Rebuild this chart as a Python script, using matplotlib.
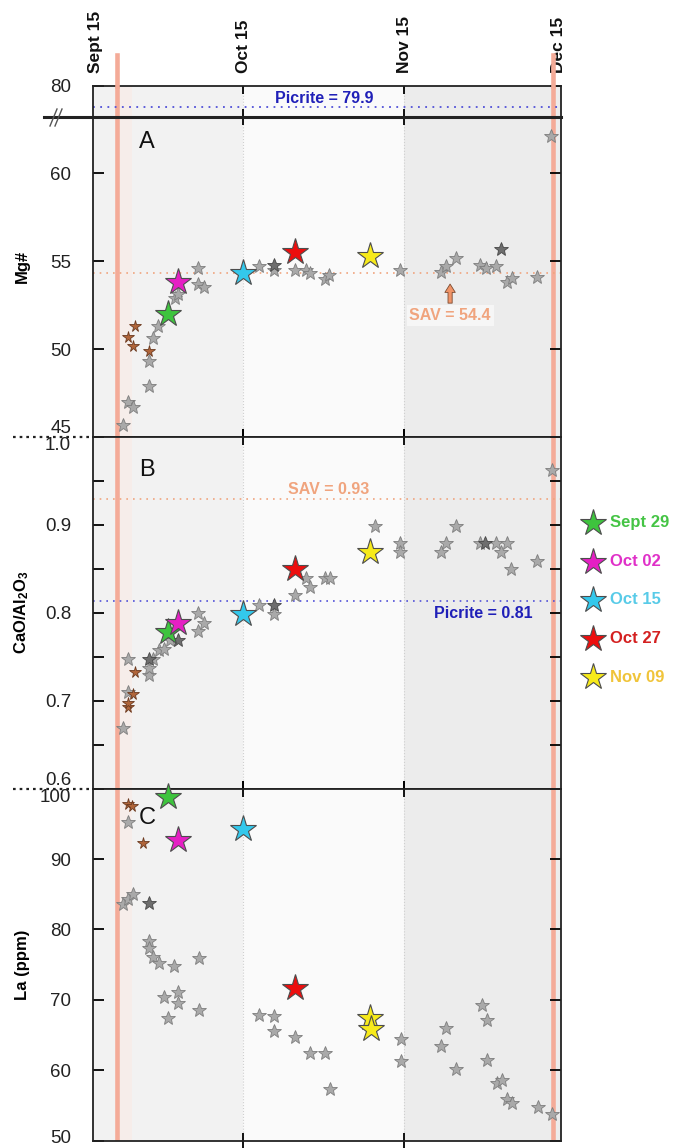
import matplotlib
matplotlib.use('Agg')
import matplotlib.pyplot as plt
import matplotlib.transforms as mtransforms
from matplotlib.lines import Line2D

plt.rcParams['font.family'] = ['Liberation Sans', 'DejaVu Sans']
plt.rcParams['mathtext.fontset'] = 'custom'
plt.rcParams['mathtext.rm'] = 'Liberation Sans'
plt.rcParams['mathtext.bf'] = 'Liberation Sans:bold'

# x values are days after Sept 15 (Oct 15 = 30, Nov 15 = 61, Dec 15 = 91)
date_labels = ['Sept 15', 'Oct 15', 'Nov 15', 'Dec 15']
date_days = [0, 30, 61, 91]
eruption_days = [5.8, 89.7]

# highlighted samples
hl_names = ['Sept 29', 'Oct 02', 'Oct 15', 'Oct 27', 'Nov 09']
hl_colors = ['#3ec43e', '#e51fc4', '#33c8ec', '#ec0e0e', '#f7ea1a']
hl_text_colors = ['#45c445', '#e030c8', '#58cbe8', '#d42020', '#f0c43a']
hl_days = [15.6, 17.5, 30.0, 40.0, 54.4]
mg_hl = [52.0, 53.8, 54.3, 55.5, 55.3]
cao_hl = [0.778, 0.789, 0.799, 0.850, 0.869]
la_hl = [98.8, 92.7, 94.3, 71.7, 67.4]
la_nov09_extra = 65.8

# panel A: Mg#
mg_days = [6.8, 7.9, 8.9, 11.8, 11.8, 12.7, 13.7, 16.9, 17.5, 21.4,
           21.4, 22.4, 33.1, 36.0, 40.0, 42.1, 42.8, 45.8, 46.6, 60.2,
           68.1, 69.0, 71.0, 75.6, 76.7, 78.7, 80.8, 81.7, 86.5, 89.3]
mg_vals = [45.7, 47.0, 46.7, 49.3, 47.9, 50.6, 51.3, 52.9, 53.1, 54.6,
           53.7, 53.5, 54.7, 54.5, 54.5, 54.5, 54.3, 54.0, 54.2, 54.5,
           54.35, 54.7, 55.2, 54.8, 54.6, 54.7, 53.8, 54.05, 54.1, 62.1]
mg_dark_days = [36.0, 79.7]
mg_dark_vals = [54.8, 55.7]
mg_brown_days = [7.9, 8.9, 9.2, 11.8]
mg_brown_vals = [50.7, 50.2, 51.3, 49.9]
mg_sav, mg_picrite = 54.3, 79.9

# panel B: CaO/Al2O3
cao_days = [6.8, 7.9, 7.9, 11.8, 11.8, 12.7, 13.9, 14.7, 15.9, 21.4,
            22.4, 21.4, 33.1, 36.0, 40.0, 42.1, 42.8, 45.8, 46.7, 55.3,
            60.2, 60.2, 68.1, 69.0, 70.9, 75.6, 78.6, 80.8, 79.7, 81.6,
            86.5, 89.4]
cao_vals = [0.669, 0.710, 0.748, 0.729, 0.737, 0.748, 0.758, 0.759, 0.769, 0.800,
            0.789, 0.779, 0.809, 0.799, 0.820, 0.840, 0.829, 0.840, 0.840, 0.899,
            0.879, 0.869, 0.869, 0.880, 0.899, 0.879, 0.879, 0.879, 0.869, 0.850,
            0.859, 0.962]
cao_dark_days = [11.8, 17.5, 36.0, 76.5]
cao_dark_vals = [0.748, 0.769, 0.809, 0.879]
cao_brown_days = [7.9, 7.9, 8.8, 9.2]
cao_brown_vals = [0.693, 0.698, 0.708, 0.733]
cao_sav, cao_picrite = 0.93, 0.813

# panel C: La (ppm)
la_days = [7.9, 6.9, 7.8, 8.8, 11.8, 11.8, 12.7, 13.8, 16.7, 21.5,
           14.8, 17.5, 17.5, 15.6, 21.5, 33.1, 36.0, 36.0, 40.0, 42.8,
           45.8, 46.7, 60.4, 60.4, 69.1, 68.1, 71.0, 76.0, 76.9, 76.9,
           78.8, 79.8, 80.8, 81.7, 86.7, 89.4]
la_vals = [95.3, 83.6, 84.3, 85.0, 78.4, 77.3, 76.1, 75.2, 74.8, 75.9,
           70.4, 71.1, 69.6, 67.4, 68.5, 67.8, 67.7, 65.6, 64.7, 62.5,
           62.5, 57.3, 64.4, 61.3, 66.0, 63.4, 60.2, 69.2, 67.1, 61.5,
           58.2, 58.6, 55.9, 55.3, 54.8, 53.7]
la_dark_days = [11.8]
la_dark_vals = [83.7]
la_brown_days = [7.9, 8.6, 10.7]
la_brown_vals = [97.85, 97.5, 92.3]

XLIM = (1.17, 91.2)
W, H = 673, 1148
SAV_C = '#f0a47e'
PIC_C = '#2020b8'
RED_C = '#f4ab98'


def box(top, bottom, left=93.3, right=561):
    return [left / W, 1 - bottom / H, (right - left) / W, (bottom - top) / H]


def stars(ax, x, y, ms, fc, ec, z=5, mew=0.6):
    ax.plot(x, y, ls='none', marker='*', ms=ms, mfc=fc, mec=ec, mew=mew,
            zorder=z, clip_on=False)


def base(ax):
    ax.set_xlim(*XLIM)
    zones = [XLIM[0], date_days[1], date_days[2], XLIM[1]]
    for (a, b), c in zip(zip(zones[:-1], zones[1:]), ['#f2f2f2', '#fafafa', '#ececec']):
        ax.axvspan(a, b, color=c, lw=0, zorder=0)
    ax.axvspan(6.3, 8.6, color='#fbe9e4', alpha=0.5, lw=0, zorder=0.5)
    for d in date_days[1:3]:
        ax.axvline(d, color='#cfcfcf', ls=':', lw=0.8, zorder=0.6)
    for d in eruption_days:
        ax.axvline(d, color=RED_C, lw=3.3, zorder=1.5)
    ax.set_xticks(date_days[1:3])
    ax.tick_params(axis='x', direction='inout', length=11, width=1.3,
                   top=True, bottom=True, labelbottom=False, labeltop=False)
    ax.tick_params(axis='y', direction='in', length=8, width=1.3, left=True,
                   right=True, pad=16, labelsize=13.5, labelcolor='#222222')
    ax.tick_params(axis='y', which='minor', direction='in', length=8, width=1.3,
                   left=True, right=True)
    for s in ax.spines.values():
        s.set_linewidth(1.3)
        s.set_color('#222222')


def highlights(ax, vals):
    for d, v, c in zip(hl_days, vals, hl_colors):
        stars(ax, [d], [v], 20, c, '#4d4d4d', z=6, mew=0.8)


def grays(ax, d, v, dd, dv, bd, bv):
    stars(ax, d, v, 10, '#a9a9a9', '#7d7d7d')
    stars(ax, dd, dv, 10, '#6e6e6e', '#474747')
    stars(ax, bd, bv, 8.5, '#b0653a', '#6b3a20')


fig = plt.figure(figsize=(6.73, 11.48), dpi=100)
ax0 = fig.add_axes(box(85.7, 117.3))
axA = fig.add_axes(box(117.3, 437.0))
axB = fig.add_axes(box(437.0, 788.8))
axC = fig.add_axes(box(788.8, 1140.5))

# upper (broken) part of panel A
base(ax0)
ax0.set_ylim(79.854, 80.0)
ax0.set_yticks([80], labels=['80'])
ax0.spines['bottom'].set_visible(False)
ax0.tick_params(axis='x', bottom=False, direction='in', length=6)
ax0.axhline(mg_picrite, color='#5050d8', ls=(0, (1, 3)), lw=1.3, zorder=2)
ax0.text(45.6, 79.942, 'Picrite = 79.9', color=PIC_C, fontsize=11.5,
         fontweight='bold', ha='center', va='center', zorder=4)

# panel A
base(axA)
axA.set_ylim(45, 63.17)
axA.set_yticks([45, 50, 55, 60], labels=['45', '50', '55', '60'])
axA.spines['top'].set_visible(False)
axA.axhline(mg_sav, color=SAV_C, ls=(0, (1, 3)), lw=1.2, zorder=2)
grays(axA, mg_days, mg_vals, mg_dark_days, mg_dark_vals, mg_brown_days, mg_brown_vals)
highlights(axA, mg_hl)
axA.text(11.5, 61.76, 'A', fontsize=17, ha='center', va='center', color='#111111')
axA.text(69.85, 51.9, 'SAV = 54.4', color=SAV_C, fontsize=11.5, fontweight='bold',
         ha='center', va='center', zorder=4,
         bbox=dict(fc='white', ec='none', alpha=0.55, pad=2))
axA.annotate('', xy=(69.85, 53.85), xytext=(69.85, 52.45), zorder=4,
             arrowprops=dict(arrowstyle='simple,head_width=0.75,head_length=0.6,tail_width=0.3',
                             fc='#f09468', ec='#7a4a30', lw=0.6))

# panel B
base(axB)
axB.set_ylim(0.6, 1.0)
axB.set_yticks([0.6, 0.7, 0.8, 0.9, 1.0], labels=['0.6', '0.7', '0.8', '0.9', '1.0'])
axB.set_yticks([0.65, 0.75, 0.85, 0.95], minor=True)
axB.axhline(cao_sav, color=SAV_C, ls=(0, (1, 3)), lw=1.2, zorder=2)
axB.axhline(cao_picrite, color='#5050d8', ls=(0, (1, 3)), lw=1.2, zorder=2)
grays(axB, cao_days, cao_vals, cao_dark_days, cao_dark_vals, cao_brown_days, cao_brown_vals)
highlights(axB, cao_hl)
axB.text(11.5, 0.962, 'B', fontsize=17, ha='center', va='center', color='#111111')
axB.text(46.4, 0.940, 'SAV = 0.93', color=SAV_C, fontsize=11.5, fontweight='bold',
         ha='center', va='center', zorder=4)
axB.text(76.2, 0.799, 'Picrite = 0.81', color=PIC_C, fontsize=11.5, fontweight='bold',
         ha='center', va='center', zorder=4)

# panel C
base(axC)
axC.set_ylim(50, 100)
axC.set_yticks([50, 60, 70, 80, 90, 100], labels=['50', '60', '70', '80', '90', '100'])
grays(axC, la_days, la_vals, la_dark_days, la_dark_vals, la_brown_days, la_brown_vals)
highlights(axC, la_hl)
stars(axC, [hl_days[4] + 0.2], [la_nov09_extra], 20, hl_colors[4], '#4d4d4d', z=6, mew=0.8)
axC.text(11.5, 95.8, 'C', fontsize=17, ha='center', va='center', color='#111111')

# labels sitting on the panel joins
for ax, lab, va in [(axA, '45', 'bottom'), (axB, '1.0', 'top'), (axB, '0.6', 'bottom'),
                    (axC, '100', 'top')]:
    for t in ax.get_yticklabels():
        if t.get_text() == lab:
            t.set_va(va)
# keep the bottom label inside the canvas
for t in axC.get_yticklabels():
    if t.get_text() == '50':
        t.set_transform(t.get_transform() +
                        mtransforms.ScaledTranslation(0, 4 / 100, fig.dpi_scale_trans))

# date labels on top
date_tr = mtransforms.blended_transform_factory(ax0.transData, fig.transFigure)
for lab, d in zip(date_labels, date_days):
    x = min(max(d, XLIM[0] + 0.35), XLIM[1] - 0.5)
    ax0.text(x, 1 - 73 / H, lab, transform=date_tr, rotation=90, ha='center',
             va='bottom', fontsize=12.5, fontweight='bold', color='#111111')

# eruption lines above the frame
for d in eruption_days:
    fig.add_artist(Line2D([d, d], [1 - 55 / H, 1 - 86 / H], transform=date_tr,
                          color=RED_C, lw=3.3, zorder=0.5))

# axis break and join marks
fig.add_artist(Line2D([44 / W, 561 / W], [1 - 117.3 / H] * 2, color='#222222', lw=2.2))
for dx in (0, 5):
    fig.add_artist(Line2D([(50 + dx) / W, (57 + dx) / W], [1 - 126 / H, 1 - 109 / H],
                          color='#555555', lw=1.0))
for yy in (437.0, 788.8):
    fig.add_artist(Line2D([13 / W, 93 / W], [1 - yy / H] * 2, color='#222222',
                          lw=1.6, ls=(0, (1.2, 1.8))))

# y labels
fig.text(22 / W, 1 - 266 / H, 'Mg#', rotation=90, ha='center', va='center',
         fontsize=12, fontweight='bold')
fig.text(22 / W, 1 - 612 / H, r'CaO/Al$\mathbf{_2}$O$\mathbf{_3}$', rotation=90,
         ha='center', va='center', fontsize=12, fontweight='bold')
fig.text(22 / W, 1 - 965 / H, 'La (ppm)', rotation=90, ha='center', va='center',
         fontsize=12, fontweight='bold')

# legend
for i, (name, c, tc) in enumerate(zip(hl_names, hl_colors, hl_text_colors)):
    y = 1 - (523 + i * 38.5) / H
    fig.add_artist(Line2D([592.7 / W], [y], marker='*', ms=20, mfc=c, mec='#4d4d4d',
                          mew=0.8, ls='none'))
    fig.text(610 / W, y, name, color=tc, fontsize=12, fontweight='bold',
             ha='left', va='center')

fig.savefig('out.png', dpi=100)
